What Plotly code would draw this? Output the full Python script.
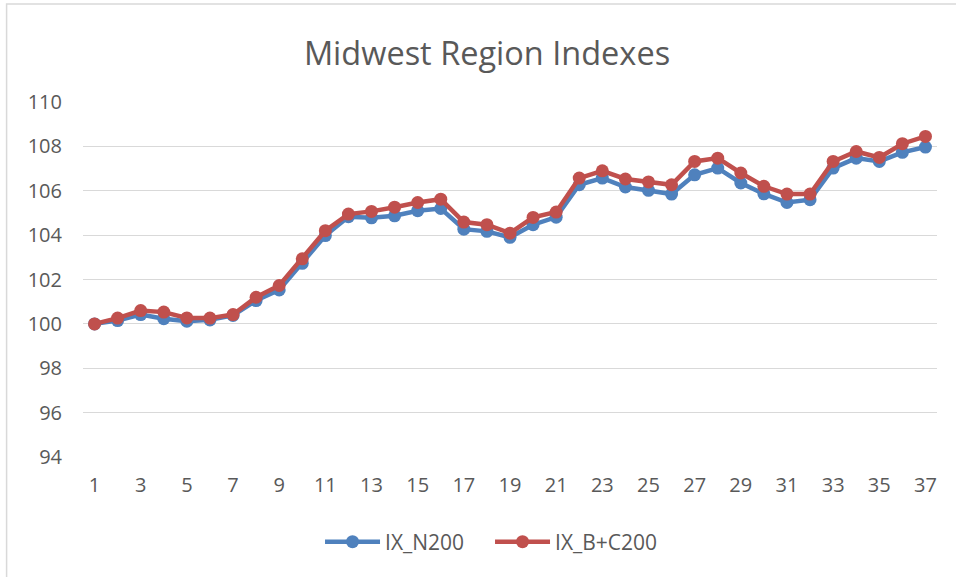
import plotly.graph_objects as go

periods = list(range(1, 38))
ix_n200 = [100.0, 100.15, 100.42, 100.23, 100.12, 100.18, 100.38, 101.05, 101.53, 102.73,
           103.98, 104.83, 104.78, 104.87, 105.1, 105.2, 104.27, 104.17, 103.9, 104.47,
           104.81, 106.27, 106.57, 106.17, 106.02, 105.85, 106.72, 107.02, 106.35, 105.86,
           105.47, 105.6, 107.02, 107.47, 107.32, 107.73, 107.97]
ix_bc200 = [100.0, 100.26, 100.6, 100.53, 100.27, 100.26, 100.42, 101.2, 101.73, 102.93,
            104.2, 104.95, 105.07, 105.26, 105.47, 105.62, 104.59, 104.47, 104.09, 104.8,
            105.04, 106.57, 106.9, 106.53, 106.4, 106.27, 107.32, 107.47, 106.8, 106.2,
            105.85, 105.85, 107.32, 107.77, 107.5, 108.12, 108.45]
x_ticks = [str(p) for p in range(1, 38, 2)]
y_ticks = [94, 96, 98, 100, 102, 104, 106, 108, 110]

FONT = "Open Sans"
GREY = "#595959"

fig = go.Figure()
fig.add_trace(go.Scatter(x=[str(p) for p in periods], y=ix_n200, name="IX_N200",
                         mode="lines+markers",
                         line=dict(color="#4F81BD", width=4.5),
                         marker=dict(color="#4F81BD", size=13)))
fig.add_trace(go.Scatter(x=[str(p) for p in periods], y=ix_bc200, name="IX_B+C200",
                         mode="lines+markers",
                         line=dict(color="#C0504D", width=4.5),
                         marker=dict(color="#C0504D", size=13)))

L, R, T, B = 82.5, 18.5, 102, 120
W, H = 956, 577
pw, ph = W - L - R, H - T - B

fig.update_layout(
    width=W, height=H,
    margin=dict(l=L, r=R, t=T, b=B),
    paper_bgcolor="white", plot_bgcolor="white",
    title=dict(text="Midwest Region Indexes", x=487 / W, xref="container", y=1 - 54 / H,
               yref="container", yanchor="middle", xanchor="center",
               font=dict(family=FONT, size=32.5, color=GREY)),
    font=dict(family=FONT, color=GREY),
    xaxis=dict(type="category", range=[-0.5, 36.5], tickmode="array",
               tickvals=x_ticks, ticktext=x_ticks, showgrid=False,
               showline=False, ticks="outside", ticklen=10, tickcolor="rgba(0,0,0,0)",
               tickfont=dict(family=FONT, size=20, color=GREY)),
    yaxis=dict(range=[94, 110], tickvals=y_ticks, showgrid=True, gridcolor="#D9D9D9",
               gridwidth=1, zeroline=False, showline=False, ticklabelstandoff=20,
               tickfont=dict(family=FONT, size=20, color=GREY)),
    legend=dict(orientation="h", x=0.5 - 20 / pw, xanchor="center", y=-(542 - 457) / ph,
                yanchor="middle", font=dict(family=FONT, size=21, color=GREY),
                itemwidth=55, entrywidth=100, entrywidthmode="pixels",
                traceorder="normal"),
    shapes=[dict(type="rect", xref="paper", yref="paper",
                 x0=(6 - L) / pw, x1=(W + 5 - L) / pw,
                 y0=-(H + 5 - T - ph) / ph, y1=(T - 4) / ph + 1,
                 line=dict(color="#D9D9D9", width=1.5), layer="below")],
)

fig.write_html("out.html", config={"displayModeBar": False},
               post_script="document.body.style.margin='0';document.body.style.overflow='hidden';")
